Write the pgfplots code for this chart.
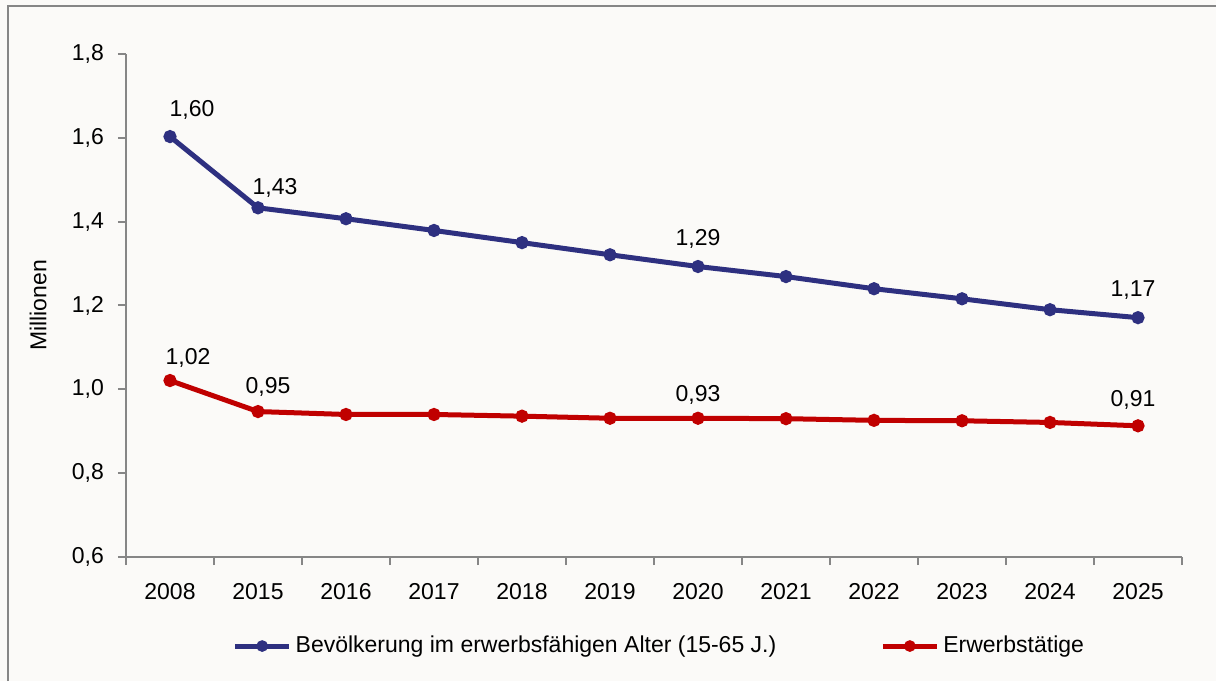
\documentclass[border=0pt]{standalone}
\usepackage{fontspec}
\setmainfont{Liberation Sans}
\usepackage{pgfplots}
\usepackage{pgfplotstable}
\pgfplotsset{compat=1.18}

\definecolor{bevblue}{RGB}{46,48,128}
\definecolor{erwred}{RGB}{192,0,0}
\definecolor{axisgray}{RGB}{134,134,134}
\definecolor{bgcol}{RGB}{251,250,248}

% x = Kategorie-Index (2008, 2015 ... 2025), lab = Beschriftung, dx/dy = Versatz in pt
\pgfplotstableread{
x y     lab  dx   dy
0 1.603 1,60 11   13.5
1 1.433 1,43 8.5  10
2 1.407 {}   0    0
3 1.379 {}   0    0
4 1.350 {}   0    0
5 1.321 {}   0    0
6 1.293 1,29 0    14
7 1.269 {}   0    0
8 1.240 {}   0    0
9 1.216 {}   0    0
10 1.190 {}  0    0
11 1.171 1,17 -2.5 14
}\bev

\pgfplotstableread{
x y     lab  dx   dy
0 1.021 1,02 9    11.5
1 0.947 0,95 5    12.5
2 0.940 {}   0    0
3 0.940 {}   0    0
4 0.936 {}   0    0
5 0.931 {}   0    0
6 0.931 0,93 0    11.5
7 0.930 {}   0    0
8 0.926 {}   0    0
9 0.925 {}   0    0
10 0.921 {}  0    0
11 0.913 0,91 -2.5 13
}\erw

\newcommand{\chartfont}{\fontsize{11.5}{13.5}\selectfont}

\begin{document}
\begin{tikzpicture}
\chartfont
\useasboundingbox[fill=bgcol] (0,0) rectangle (608pt,340.5pt);
\draw[axisgray, line width=1pt] (4pt,0) -- (4pt,337.5pt) -- (608pt,337.5pt);
\begin{axis}[
  at={(63pt,62pt)}, anchor=south west,
  scale only axis,
  width=528pt, height=251.5pt,
  xmin=-0.5, xmax=11.5,
  ymin=0.6, ymax=1.8,
  ytick={0.6,0.8,...,1.8},
  xtick={0,...,11},
  xticklabels={2008,2015,2016,2017,2018,2019,2020,2021,2022,2023,2024,2025},
  minor xtick={-0.5,0.5,...,11.5},
  axis x line*=bottom, axis y line*=left,
  axis line style={draw=axisgray, line width=1pt},
  tick align=outside,
  major tick length=4pt, minor tick length=4pt,
  major x tick style={draw=none},
  minor x tick style={draw=axisgray, line width=1pt},
  ytick style={draw=axisgray, line width=1pt},
  y tick label style={xshift=-3pt, /pgf/number format/.cd, fixed, fixed zerofill, precision=1, use comma},
  x tick label style={yshift=-5pt},
  /pgf/number format/assume math mode=true,
  ticklabel style={font=\chartfont},
  ylabel={Millionen},
  ylabel style={at={(rel axis cs:-0.0833,0.5)}, anchor=center, font=\chartfont},
  legend columns=2,
  legend style={at={(0.506,-0.177)}, anchor=center, draw=none, fill=none,
    font=\chartfont,
    /tikz/every even column/.append style={column sep=50pt}},
  legend image code/.code={
    \draw[#1, mark repeat=2, mark phase=2, mark size=1.6pt] plot coordinates {(0pt,0pt) (13.5pt,0pt) (27pt,0pt)};
  },
  every axis plot/.append style={line width=2.5pt, mark=*, mark size=2pt},
  point meta=explicit symbolic,
  nodes near coords,
  nodes near coords style={anchor=center, font=\chartfont, text=black,
    xshift=\dx pt, yshift=\dy pt},
  visualization depends on={\thisrow{dx} \as \dx},
  visualization depends on={\thisrow{dy} \as \dy},
]
\addplot[color=bevblue, mark options={fill=bevblue}] table[x=x, y=y, meta=lab] {\bev};
\addlegendentry{Bevölkerung im erwerbsfähigen Alter (15-65 J.)}
\addplot[color=erwred, mark options={fill=erwred}] table[x=x, y=y, meta=lab] {\erw};
\addlegendentry{Erwerbstätige}
\end{axis}
\end{tikzpicture}
\end{document}
